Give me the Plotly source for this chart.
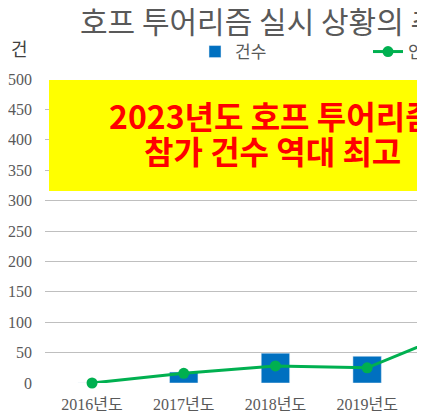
import plotly.graph_objects as go

# data (the view is cropped at 2019/2020)
years = ['2016년도', '2017년도', '2018년도', '2019년도', '2020년도']
counts = [0, 18, 49, 44, None]      # 건수 (bars)
people = [0, 16, 28, 25, 87]        # 인원 (line), 2020 estimated from the visible slope
y_ticks = [0, 50, 100, 150, 200, 250, 300, 350, 400, 450, 500]

title_text = '호프 투어리즘 실시 상황의 추이'
note_line1 = '2023년도 호프 투어리즘'
note_line2 = '참가 건수 역대 최고'

# the page body has an 8px margin, so the figure is sized to end at the window edge
OFF = 8
W, H = 425 - OFF, 419 - OFF
ML, MT, MB = 45 - OFF, 79 - OFF, 36
PW = W - ML
PH = H - MT - MB

SERIF = 'Times New Roman, Liberation Serif, serif'
SANS = 'Noto Sans CJK KR'


def px_x(x):  # page x -> paper x
    return (x - OFF - ML) / PW


def px_y(y):  # page y -> paper y
    return 1 - (y - OFF - MT) / PH


fig = go.Figure()

fig.add_trace(go.Bar(
    x=years, y=counts, name='건수',
    marker_color='#0070C0', width=0.31,
))

fig.add_trace(go.Scatter(
    x=years, y=people, name='인원',
    mode='lines+markers',
    line=dict(color='#00B050', width=3),
    marker=dict(color='#00B050', size=11),
    cliponaxis=False,
))

# yellow call-out box with red text
fig.add_shape(type='rect', xref='paper', yref='paper',
              x0=px_x(49), x1=1.2, y0=px_y(191), y1=px_y(80),
              fillcolor='#FFFF00', line_width=0, layer='above')
for txt, yc in [(note_line1, 115), (note_line2, 150)]:
    fig.add_annotation(text=txt, xref='paper', yref='paper',
                       x=px_x(272), y=px_y(yc),
                       xanchor='center', yanchor='middle', showarrow=False,
                       font=dict(family=SANS, size=32, color='#FF0000', weight='bold'))

# unit label
fig.add_annotation(text='건', xref='paper', yref='paper',
                   x=px_x(19), y=px_y(48),
                   xanchor='center', yanchor='middle', showarrow=False,
                   font=dict(family=SANS, size=18, color='#404040'))

fig.update_layout(
    width=W, height=H,
    margin=dict(l=ML, r=0, t=MT, b=MB, autoexpand=False),
    plot_bgcolor='white', paper_bgcolor='white',
    title=dict(text=title_text, xref='container', yref='container',
               x=(80 - OFF) / W, xanchor='left', y=1 - (22 - OFF) / H, yanchor='middle',
               font=dict(family=SANS, size=30, color='#595959')),
    showlegend=True,
    legend=dict(orientation='h', x=px_x(195), xanchor='left',
                y=px_y(52), yanchor='middle',
                entrywidth=128, traceorder='normal',
                font=dict(family=SANS, size=17, color='#595959')),
    xaxis=dict(type='category', range=[-0.513, 3.631], showgrid=False,
               showline=False, ticks='', ticklabelstandoff=10,
               tickfont=dict(family=SERIF + ', ' + SANS, size=16, color='#595959')),
    yaxis=dict(range=[0, 500], tickvals=y_ticks, showgrid=True,
               gridcolor='#BFBFBF', gridwidth=1.3, zeroline=False, showline=False,
               ticks='', ticklabelstandoff=12, automargin=False,
               tickfont=dict(family=SERIF, size=16, color='#595959')),
)

fig.write_html('out.html')
